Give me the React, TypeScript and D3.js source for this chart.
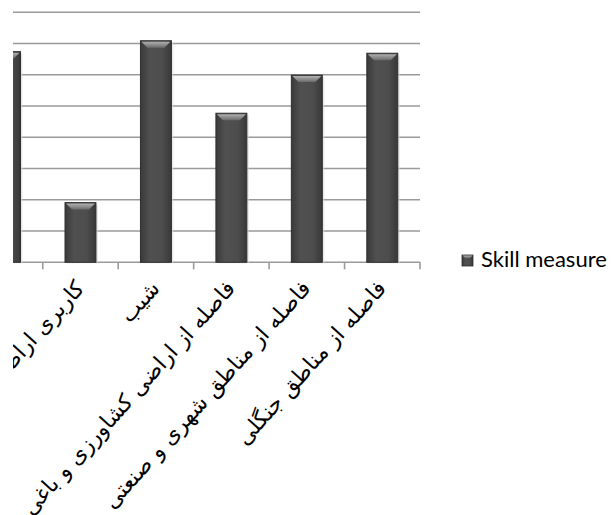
import React from "react";
import * as d3 from "d3";

const categories = [
  "ارتفاع",
  "کاربری اراضی",
  "شیب",
  "فاصله از اراضی کشاورزی و باغی",
  "فاصله از مناطق شهری و صنعتی",
  "فاصله از مناطق جنگلی",
];
const skillMeasure = [6.74, 1.91, 7.09, 4.77, 5.99, 6.69];
const gridTicks = [0, 1, 2, 3, 4, 5, 6, 7, 8];
const seriesName = "Skill measure";

const W = 612;
const H = 515;
const plotLeft = -32.7;
const plotRight = 420;
const plotTop = 12.3;
const plotBottom = 262.3;
const clipLeft = 13;

export default function App() {
  const x = d3
    .scaleBand<string>()
    .domain(categories)
    .range([plotLeft, plotRight])
    .paddingInner(0.59)
    .paddingOuter(0.295);
  const xCat = d3.scaleBand<string>().domain(categories).range([plotLeft, plotRight]).padding(0);
  const y = d3.scaleLinear().domain([0, 8]).range([plotBottom, plotTop]);
  const bw = x.bandwidth();
  const angle = -48;

  const tickXs = categories.map((c) => (xCat(c) as number) + xCat.step());

  return (
    <svg
      width={W}
      height={H}
      style={{ position: "absolute", left: 0, top: 0, background: "#fff" }}
    >
      <defs>
        <clipPath id="clipAll">
          <rect x={clipLeft} y={0} width={W - clipLeft} height={H} />
        </clipPath>
        <linearGradient id="barGrad" x1="0" x2="1" y1="0" y2="0">
          <stop offset="0" stopColor="#3a3a3a" />
          <stop offset="0.3" stopColor="#505050" />
          <stop offset="0.7" stopColor="#4d4d4d" />
          <stop offset="1" stopColor="#383838" />
        </linearGradient>
        <linearGradient id="bevelGrad" x1="0" x2="0" y1="0" y2="1">
          <stop offset="0" stopColor="#b0b0b0" />
          <stop offset="1" stopColor="#6a6a6a" />
        </linearGradient>
      </defs>
      <g clipPath="url(#clipAll)">
        {gridTicks.map((t) => (
          <line
            key={t}
            x1={clipLeft}
            x2={plotRight}
            y1={y(t)}
            y2={y(t)}
            stroke="#9a9a9a"
            strokeWidth={1.6}
          />
        ))}
        {tickXs.map((tx, i) => (
          <line
            key={"t" + i}
            x1={tx}
            x2={tx}
            y1={plotBottom}
            y2={plotBottom + 7}
            stroke="#9a9a9a"
            strokeWidth={1.6}
          />
        ))}
        {categories.map((c, i) => {
          const bx = x(c) as number;
          const by = y(skillMeasure[i]);
          const bh = plotBottom - by;
          const bev = 6;
          return (
            <g key={c}>
              <rect x={bx + 2} y={by + 2} width={bw} height={bh - 1} fill="#d8d8d8" opacity={0.6} />
              <rect
                x={bx}
                y={by}
                width={bw}
                height={bh}
                fill="url(#barGrad)"
                stroke="#2e2e2e"
                strokeWidth={1}
              />
              <path
                d={`M${bx + 1},${by + 1} L${bx + bw - 1},${by + 1} L${bx + bw - 7},${by + bev + 1} L${bx + 7},${by + bev + 1} Z`}
                fill="url(#bevelGrad)"
              />
            </g>
          );
        })}
        {categories.map((c) => {
          const cx = (xCat(c) as number) + xCat.step() / 2 + 5;
          const cy = plotBottom + 27;
          return (
            <text
              key={"l" + c}
              transform={`translate(${cx},${cy}) rotate(${angle})`}
              textAnchor="end"
              fontFamily="DejaVu Sans"
              fontSize={22}
              fill="#000"
            >
              {c}
            </text>
          );
        })}
      </g>
      <g transform="translate(462,255)">
        <rect x={0} y={0} width={11} height={11} fill="url(#barGrad)" stroke="#2e2e2e" strokeWidth={0.8} />
        <path d="M0.5,0.5 L10.5,0.5 L8,3 L3,3 Z" fill="url(#bevelGrad)" />
        <text x={19} y={12} fontFamily="Lato" fontSize={22} fill="#000">
          {seriesName}
        </text>
      </g>
    </svg>
  );
}
